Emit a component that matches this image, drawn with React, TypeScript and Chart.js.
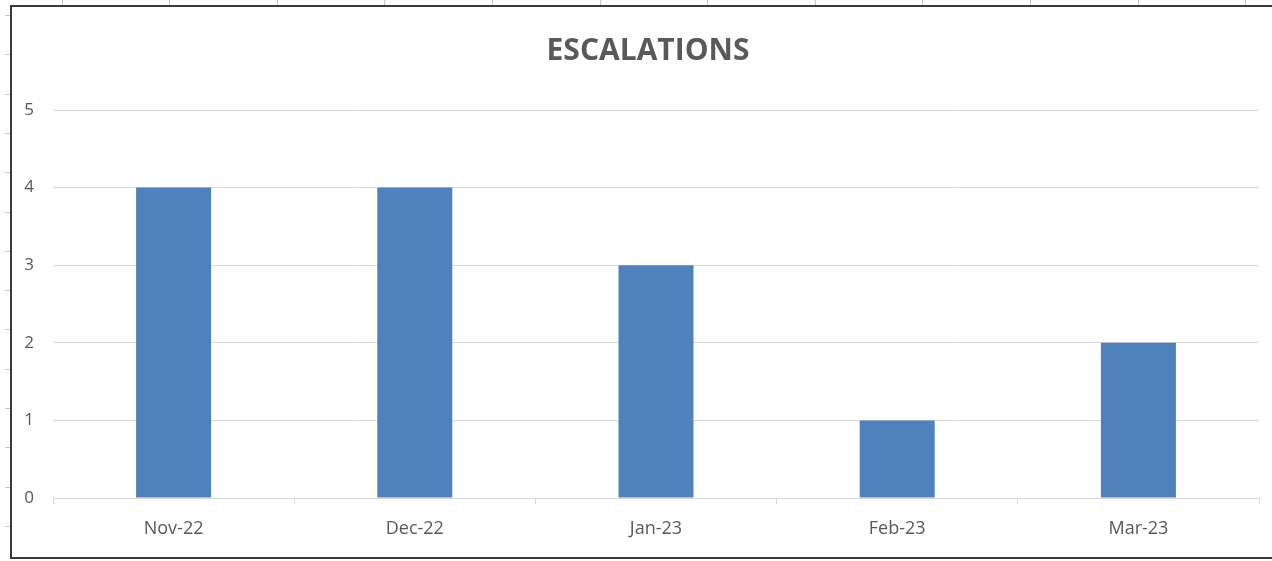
import React, { useEffect, useRef } from "react";
import { Chart, registerables } from "chart.js";

Chart.register(...registerables);

const categories = ["Nov-22", "Dec-22", "Jan-23", "Feb-23", "Mar-23"];
const escalations = [4, 4, 3, 1, 2];
const yMin = 0;
const yMax = 5;
const yStep = 1;
const chartTitle = "ESCALATIONS";

const TEXT = "#595959";
const GRID = "#D9D9D9";
const BAR = "#4F81BD";

const framePlugin = {
  id: "excelFrame",
  afterLayout(chart: any) {
    // centre the title over the whole chart frame, as Excel does
    if (chart.titleBlock) chart.titleBlock.left = 37;
  },
  beforeDraw(chart: any) {
    const ctx = chart.ctx;
    const W = chart.width;
    const H = chart.height;
    ctx.save();
    ctx.fillStyle = "#ffffff";
    ctx.fillRect(0, 0, W, H);
    // spreadsheet cell grid peeking outside the chart frame
    ctx.strokeStyle = "#C8C8C8";
    ctx.lineWidth = 1;
    for (let x = 61.5; x < W; x += 107.6) {
      ctx.beginPath();
      ctx.moveTo(Math.round(x) + 0.5, 0);
      ctx.lineTo(Math.round(x) + 0.5, 5);
      ctx.stroke();
    }
    for (let y = 15; y < H - 4; y += 39.3) {
      ctx.beginPath();
      ctx.moveTo(5, Math.round(y) + 0.5);
      ctx.lineTo(10, Math.round(y) + 0.5);
      ctx.stroke();
    }
    // chart frame
    ctx.strokeStyle = "#3A3A3A";
    ctx.lineWidth = 2;
    ctx.beginPath();
    ctx.moveTo(W, 6);
    ctx.lineTo(11, 6);
    ctx.lineTo(11, 558);
    ctx.lineTo(W, 558);
    ctx.stroke();
    ctx.restore();
  },
};

export default function App() {
  const ref = useRef<HTMLCanvasElement | null>(null);

  useEffect(() => {
    if (!ref.current) return;
    const chart = new Chart(ref.current, {
      type: "bar",
      data: {
        labels: categories,
        datasets: [
          {
            label: chartTitle,
            data: escalations,
            backgroundColor: BAR,
            borderWidth: 0,
            categoryPercentage: 1,
            barPercentage: 0.311,
          },
        ],
      },
      options: {
        responsive: false,
        animation: false,
        devicePixelRatio: 1,
        layout: { padding: { left: 0, right: 13, top: 0, bottom: 0 } },
        plugins: {
          legend: { display: false },
          tooltip: { enabled: false },
          title: {
            display: true,
            text: chartTitle,
            color: TEXT,
            font: { family: "'Open Sans', sans-serif", size: 30, weight: "bold" },
            padding: { top: 33, bottom: 41 },
          },
        },
        scales: {
          x: {
            grid: {
              offset: true,
              drawOnChartArea: false,
              drawTicks: true,
              tickLength: 6,
              color: GRID,
            },
            border: { display: true, color: GRID, width: 1 },
            ticks: {
              color: TEXT,
              font: { family: "'Open Sans', sans-serif", size: 18 },
              padding: 14,
              maxRotation: 0,
            },
            afterFit(scale: any) {
              scale.height = 63;
            },
          },
          y: {
            min: yMin,
            max: yMax,
            grid: { color: GRID, drawTicks: false, lineWidth: 1 },
            border: { display: false },
            ticks: {
              stepSize: yStep,
              color: TEXT,
              font: { family: "'Open Sans', sans-serif", size: 17 },
              padding: 19,
            },
            afterFit(scale: any) {
              scale.width = 53;
            },
          },
        },
      },
      plugins: [framePlugin],
    });
    return () => chart.destroy();
  }, []);

  return (
    <div style={{ position: "absolute", left: 0, top: 0, width: 1272, height: 561, background: "#fff" }}>
      <canvas ref={ref} width={1272} height={561} style={{ display: "block", width: 1272, height: 561 }} />
    </div>
  );
}
